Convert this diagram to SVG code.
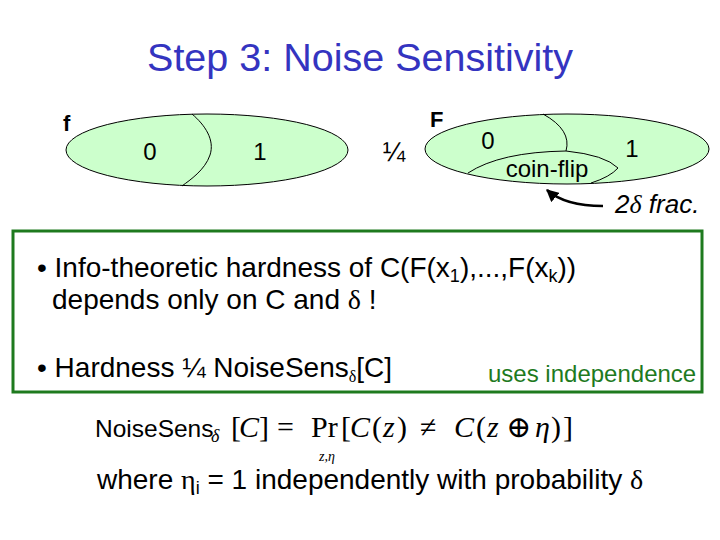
<svg xmlns="http://www.w3.org/2000/svg" width="720" height="540" viewBox="0 0 720 540">
<defs>
<style>
.sans{font-family:"Liberation Sans",Arial,sans-serif;}
.serif{font-family:"Liberation Serif","DejaVu Serif",serif;}
.it{font-style:italic;}
.ell{fill:#CCFFCC;stroke:#000;stroke-width:1;}
.div{fill:none;stroke:#000;stroke-width:1;}
.lbl{font-size:24px;fill:#000;}
.body{font-size:28px;fill:#000;}
.math{font-family:"Liberation Serif","DejaVu Serif",serif;fill:#000;}
</style>
<marker id="ah" viewBox="0 0 10 10" refX="9" refY="5" markerWidth="5" markerHeight="5" orient="auto">
<path d="M0,0 L10,5 L0,10 z" fill="#000"/>
</marker>
</defs>
<rect width="720" height="540" fill="#fff"/>
<text class="sans" x="360" y="71" text-anchor="middle" font-size="39.5" fill="#3434C0">Step 3: Noise Sensitivity</text>

<g id="f-ellipse">
<ellipse class="ell" cx="207" cy="150" rx="141" ry="36"/>
<path class="div" d="M192,114 C205,125 215,140 210,155 C205,170 190,180 182,186"/>
<text class="sans" x="63" y="131" font-size="22" font-weight="bold">f</text>
<text class="sans lbl" x="150" y="160" text-anchor="middle">0</text>
<text class="sans lbl" x="260" y="160" text-anchor="middle">1</text>
</g>
<g id="quarter"><text class="sans" x="394" y="161" font-size="27" text-anchor="middle">¼</text></g>

<g id="F-ellipse">
<ellipse class="ell" cx="567" cy="149" rx="142" ry="35"/>
<path class="div" d="M543,114 Q572,130 566,151"/>
<path class="div" d="M468,173 Q500,152 566,151 Q605,155 618,168 Q610,177 591,183"/>
<text class="sans" x="430" y="127" font-size="22" font-weight="bold">F</text>
<text class="sans lbl" x="488" y="149" text-anchor="middle">0</text>
<text class="sans lbl" x="632" y="157" text-anchor="middle">1</text>
<text class="sans lbl" x="547" y="177" text-anchor="middle">coin-flip</text>
</g>

<g id="connectors">
<path d="M603,206 Q565,206 547,190" fill="none" stroke="#000" stroke-width="2.5" marker-end="url(#ah)"/>
</g>
<g id="frac-label">
<text class="sans it" x="615" y="213" font-size="26">2<tspan class="serif">δ</tspan> frac.</text>
</g>

<g id="box">
<rect x="13" y="231" width="689" height="161" fill="none" stroke="#1E7A1E" stroke-width="3"/>
<text class="sans body" x="37" y="277">• Info-theoretic hardness of C(F(x<tspan font-size="18" dy="5">1</tspan><tspan dy="-5">),...,F(x</tspan><tspan font-size="18" dy="5">k</tspan><tspan dy="-5">))</tspan></text>
<text class="sans body" x="52" y="309">depends only on C and <tspan class="serif">δ</tspan> !</text>
<text class="sans body" x="37" y="377">• Hardness ¼ NoiseSens<tspan class="serif" font-size="16" dy="5">δ</tspan><tspan dy="-5">[C]</tspan></text>
<text class="sans" x="488" y="382" font-size="24" fill="#1E7A1E">uses independence</text>
</g>

<g id="formula">
<text class="sans" x="95" y="437" font-size="24.5">NoiseSens<tspan font-family="Liberation Serif, DejaVu Serif, serif" font-style="italic" font-size="18" x="211" y="442">δ</tspan></text>
<text class="math" y="437" font-size="30"><tspan x="231">[</tspan><tspan class="it" x="239">C</tspan><tspan x="259">]</tspan><tspan x="277">=</tspan><tspan x="311">Pr</tspan><tspan x="341">[</tspan><tspan class="it" x="350">C</tspan><tspan x="372">(</tspan><tspan class="it" x="383">z</tspan><tspan x="397">)</tspan><tspan x="420">≠</tspan><tspan class="it" x="454">C</tspan><tspan x="476">(</tspan><tspan class="it" x="487">z</tspan><tspan x="506">⊕</tspan><tspan class="it" x="535">η</tspan><tspan x="551">)</tspan><tspan x="563">]</tspan></text>
<text class="math it" x="327" y="461" font-size="14" text-anchor="middle">z,η</text>
</g>
<g id="where">
<text class="sans body" x="97" y="489">where <tspan class="serif">η</tspan><tspan font-size="18" dy="5">i</tspan><tspan dy="-5"> = 1 independently with probability </tspan><tspan class="serif">δ</tspan></text>
</g>
</svg>
